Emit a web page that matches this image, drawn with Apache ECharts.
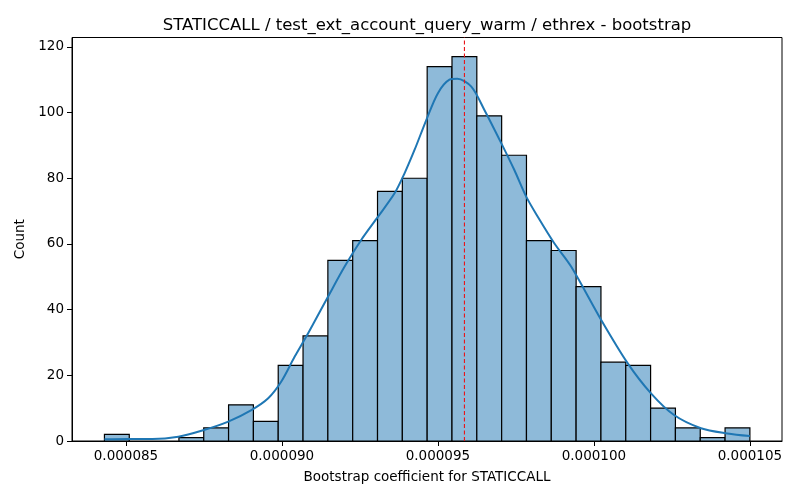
<!DOCTYPE html>
<html>
<head>
<meta charset="utf-8">
<script src="https://cdn.jsdelivr.net/npm/echarts@6/dist/echarts.min.js"></script>
<style>
  html, body { margin: 0; padding: 0; background: #fff; }
  #chart { width: 800px; height: 500px; }
</style>
</head>
<body>
<div id="chart"></div>
<script>
// histogram bins (26 equal bins from the data min to max)
var binStart = 0.00008431;
var binWidth = 0.0000007958;
var counts = [2, 0, 0, 1, 4, 11, 6, 23, 32, 55, 61, 76, 80, 114, 117, 99, 87, 61, 58, 47, 24, 23, 10, 4, 1, 4];

// kde curve (x, scaled to counts)
var kdeX = [0.00008431, 0.00008505, 0.00008585, 0.00008668, 0.00008742, 0.00008828, 0.00008902,
  0.00008956, 0.00008998, 0.00009041, 0.00009084, 0.00009148, 0.00009201, 0.00009254, 0.00009308,
  0.00009361, 0.00009393, 0.00009425, 0.00009463, 0.00009500, 0.00009537, 0.00009562, 0.00009607,
  0.00009649, 0.00009703, 0.00009745, 0.00009783, 0.00009820, 0.00009873, 0.00009927, 0.00010023,
  0.00010108, 0.00010183, 0.00010257, 0.00010343, 0.00010428, 0.00010500];
var kdeY = [0.5, 0.6, 0.6, 1.3, 3.1, 5.9, 9.4,
  13.0, 18.1, 25.7, 32.8, 44.0, 53.1, 61.2, 68.3,
  75.4, 81.5, 88.6, 97.8, 105.9, 110.0, 110.3, 107.9,
  100.8, 90.7, 82.5, 74.4, 68.3, 60.2, 53.1, 36.9,
  23.7, 14.5, 7.9, 3.9, 2.3, 1.5];

var meanLine = 0.00009585;
var xTicks = [0.000085, 0.00009, 0.000095, 0.0001, 0.000105];
var yTicks = [0, 20, 40, 60, 80, 100, 120];

var chart = echarts.init(document.getElementById('chart'));

var histData = [];
for (var i = 0; i < counts.length; i++) {
  if (counts[i] > 0) {
    histData.push([binStart + i * binWidth, binStart + (i + 1) * binWidth, counts[i]]);
  }
}
var kdeData = kdeX.map(function (x, i) { return [x, kdeY[i]]; });

var font = 'DejaVu Sans';

var option = {
  animation: false,
  textStyle: { fontFamily: font },
  title: {
    text: 'STATICCALL / test_ext_account_query_warm / ethrex - bootstrap',
    left: 422, top: 12, textAlign: 'center',
    textStyle: { fontFamily: font, fontSize: 16.5, fontWeight: 'normal', color: '#000' }
  },
  grid: {
    left: 72, right: 18, top: 37.5, bottom: 59,
    show: true, borderColor: '#000', borderWidth: 1, backgroundColor: 'transparent'
  },
  xAxis: {
    type: 'value',
    min: 0.00008327, max: 0.00010603,
    name: 'Bootstrap coefficient for STATICCALL',
    nameLocation: 'middle', nameGap: 29,
    nameTextStyle: { fontFamily: font, fontSize: 13.5, color: '#000' },
    axisLine: { lineStyle: { color: '#000', width: 1 } },
    axisTick: { length: 5, lineStyle: { color: '#000' }, customValues: xTicks },
    axisLabel: {
      customValues: xTicks, margin: 8, color: '#000', fontSize: 13.5, fontFamily: font,
      formatter: function (v) { return v.toFixed(6); }
    },
    splitLine: { show: false }
  },
  yAxis: {
    type: 'value',
    min: 0, max: 122.85,
    name: 'Count',
    nameLocation: 'middle', nameGap: 42, nameRotate: 90,
    nameTextStyle: { fontFamily: font, fontSize: 13.5, color: '#000' },
    axisLine: { show: true, lineStyle: { color: '#000', width: 1 } },
    axisTick: { show: true, length: 5, lineStyle: { color: '#000' }, customValues: yTicks },
    axisLabel: { customValues: yTicks, margin: 8, color: '#000', fontSize: 13.5, fontFamily: font },
    splitLine: { show: false }
  },
  series: [
    {
      type: 'custom',
      name: 'hist',
      data: histData,
      encode: { x: [0, 1], y: 2 },
      renderItem: function (params, api) {
        var p0 = api.coord([api.value(0), 0]);
        var p1 = api.coord([api.value(1), api.value(2)]);
        return {
          type: 'rect',
          shape: { x: p0[0], y: p1[1], width: p1[0] - p0[0], height: p0[1] - p1[1] },
          style: { fill: '#8ebad9', stroke: '#000', lineWidth: 1.2 }
        };
      },
      z: 2
    },
    {
      type: 'line',
      name: 'kde',
      data: kdeData,
      smooth: 0.3,
      showSymbol: false,
      lineStyle: { color: '#1f77b4', width: 2 },
      z: 3
    },
    {
      type: 'line',
      name: 'mean',
      data: [[meanLine, 0], [meanLine, 122.85]],
      showSymbol: false,
      lineStyle: { color: '#e8161a', type: [4, 2.5], width: 1.1 },
      z: 4
    }
  ]
};

chart.setOption(option);
</script>
</body>
</html>
